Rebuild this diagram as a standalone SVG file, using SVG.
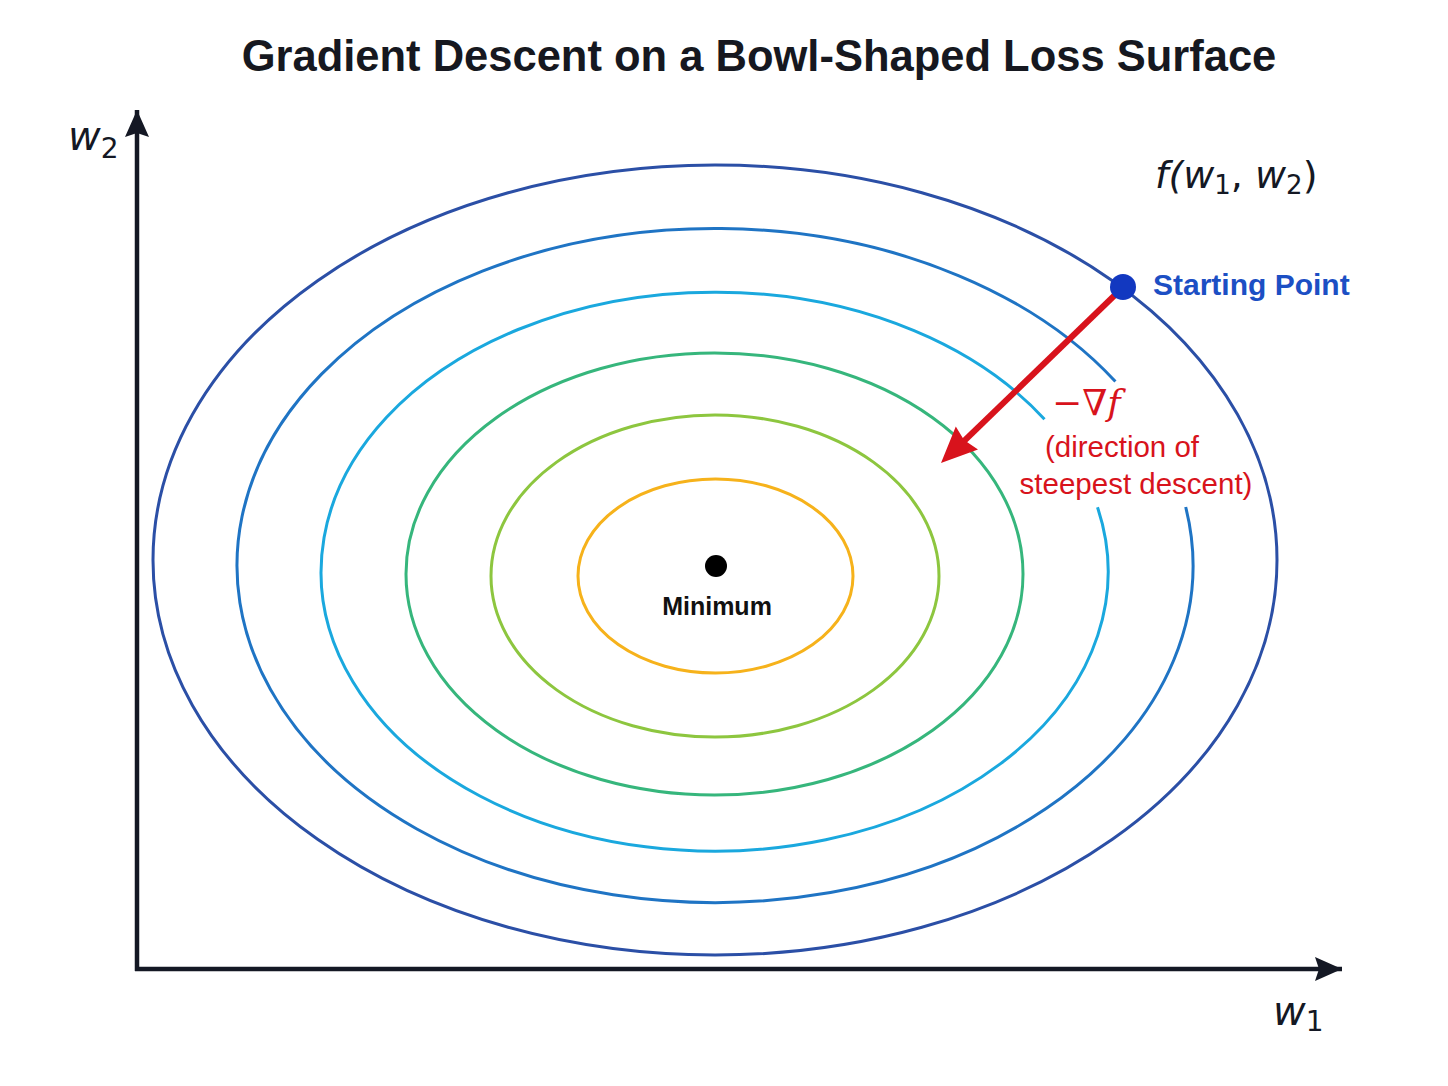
<svg xmlns="http://www.w3.org/2000/svg" width="1448" height="1086" viewBox="0 0 1448 1086">
<style>
.c{fill:none;stroke-width:3}
.ax{stroke:#141824;stroke-width:4.5;fill:none}
.t{font-family:"Liberation Sans",Arial,sans-serif}
.lab{font-family:"DejaVu Sans","Liberation Sans",sans-serif;fill:#141824}
.red{fill:#d8131c;font-family:"Liberation Sans",Arial,sans-serif}
</style>
<defs>
<marker id="ah" markerUnits="userSpaceOnUse" markerWidth="28" markerHeight="24" refX="27" refY="12" orient="auto">
<path d="M0,0 L27,12 L0,24 L4,12 Z" fill="#141824"/>
</marker>
</defs>
<rect width="1448" height="1086" fill="#ffffff"/>
<text class="t" x="759" y="71" font-size="43.5" font-weight="bold" text-anchor="middle" fill="#161820">Gradient Descent on a Bowl-Shaped Loss Surface</text>

<g id="contours">
<ellipse id="c1" class="c" cx="715" cy="560" rx="562" ry="395" stroke="#2b4fa6"/>
<path id="c2" class="c" d="M1185.7,507 A478,337 0 1 1 1115.4,381.5" stroke="#1f74c4"/>
<path id="c3" class="c" d="M1097.5,507.2 A393.5,279.5 0 1 1 1044.5,419.3" stroke="#1aa8de"/>
<ellipse id="c4" class="c" cx="714.5" cy="574" rx="308.5" ry="221" stroke="#36b67c"/>
<ellipse id="c5" class="c" cx="715" cy="576" rx="224" ry="161" stroke="#8dc63f"/>
<ellipse id="c6" class="c" cx="715.5" cy="576" rx="137.5" ry="97" stroke="#f6b21b"/>
</g>

<g id="axes">
<path class="ax" d="M137,971 L137,110" marker-end="url(#ah)"/>
<path class="ax" d="M135,969 L1342,969" marker-end="url(#ah)"/>
</g>
<g id="axis-labels" class="lab">
<text x="68" y="150" font-size="40" font-style="italic">w<tspan font-size="28" font-style="normal" dy="8">2</tspan></text>
<text x="1273" y="1025" font-size="40" font-style="italic">w<tspan font-size="28" font-style="normal" dy="6">1</tspan></text>
<text x="1155" y="188" font-size="38" font-style="italic">f(w<tspan font-size="26" font-style="normal" dy="6">1</tspan><tspan dy="-6" font-style="normal">, </tspan>w<tspan font-size="26" font-style="normal" dy="6">2</tspan><tspan dy="-6" font-style="normal">)</tspan></text>
</g>

<g id="connectors">
<path d="M1116,294 L962,443" stroke="#d8131c" stroke-width="6" fill="none"/>
<path d="M941,463 L978,449.5 L964,440 L955.8,426.5 Z" fill="#d8131c"/>
</g>

<g id="start">
<circle cx="1123" cy="287" r="13" fill="#1238c0"/>
<text class="t" x="1153" y="295" font-size="30" font-weight="bold" fill="#1c4fc4">Starting Point</text>
</g>

<g id="gradient-label">
<text x="1052" y="415" font-size="36" fill="#d8131c" font-family="DejaVu Serif,serif">−∇<tspan font-style="italic">f</tspan></text>
<text class="red" x="1122" y="457" font-size="29.5" text-anchor="middle">(direction of</text>
<text class="red" x="1136" y="494" font-size="29.5" text-anchor="middle">steepest descent)</text>
</g>

<g id="minimum">
<circle cx="716" cy="566" r="11" fill="#000"/>
<text class="t" x="717" y="615" font-size="25" font-weight="bold" text-anchor="middle" fill="#111">Minimum</text>
</g>
</svg>
